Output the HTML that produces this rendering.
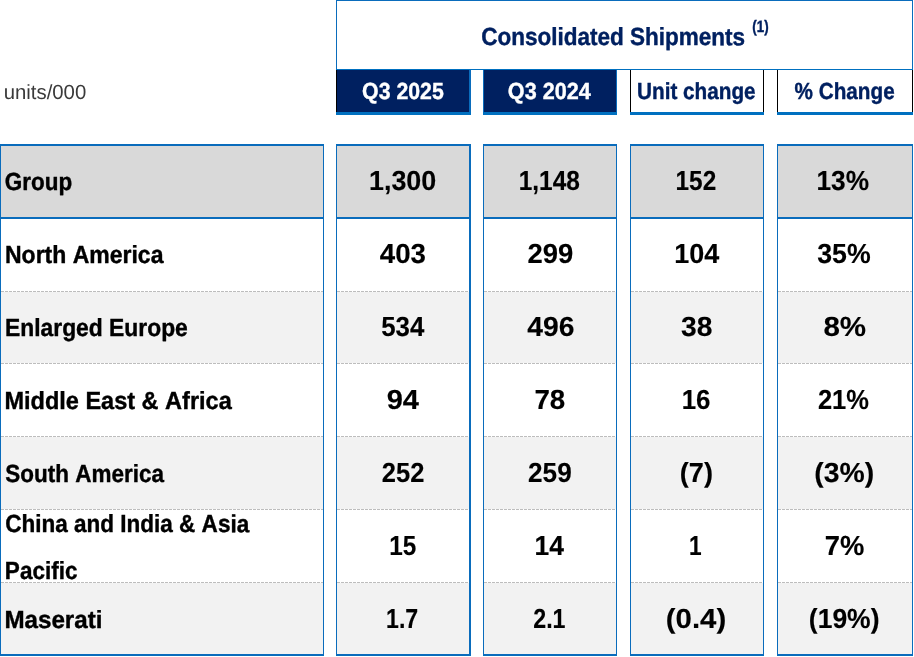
<!DOCTYPE html>
<html lang="en"><head><meta charset="utf-8"><title>Consolidated Shipments</title>
<style>
html,body{margin:0;padding:0;background:#fff}
body{width:914px;height:657px;position:relative;overflow:hidden;font-family:"Liberation Sans",sans-serif}
.r{position:absolute}
.t{position:absolute;font-kerning:none;white-space:nowrap;line-height:1;transform-origin:0 0;margin:0;padding:0}
.dash{position:absolute;height:1px;background-image:repeating-linear-gradient(90deg,#bdbdbd 0,#bdbdbd 3px,transparent 3px,transparent 4px)}
</style></head><body>

<div class="r" style="left:336px;top:0px;width:577px;height:1px;background:#0A6CBC"></div>
<div class="r" style="left:336px;top:0px;width:1px;height:70px;background:#0A6CBC"></div>
<div class="r" style="left:912px;top:0px;width:1px;height:70px;background:#0A6CBC"></div>
<div class="r" style="left:336px;top:69px;width:577px;height:1px;background:#0070C0"></div>
<div class="r" style="left:337px;top:70px;width:132px;height:42px;background:#002060"></div>
<div class="r" style="left:336px;top:70px;width:1px;height:43px;background:#000"></div>
<div class="r" style="left:469px;top:70px;width:2px;height:42px;background:#0A6CBC"></div>
<div class="r" style="left:336px;top:112px;width:135px;height:3px;background:#0070C0"></div>
<div class="r" style="left:484px;top:70px;width:132px;height:42px;background:#002060"></div>
<div class="r" style="left:483px;top:70px;width:1px;height:42px;background:#0A6CBC"></div>
<div class="r" style="left:616px;top:70px;width:1px;height:42px;background:#0A6CBC"></div>
<div class="r" style="left:483px;top:112px;width:134px;height:3px;background:#0070C0"></div>
<div class="r" style="left:630px;top:70px;width:1px;height:43px;background:#000"></div>
<div class="r" style="left:763px;top:70px;width:1px;height:43px;background:#000"></div>
<div class="r" style="left:630px;top:112px;width:134px;height:3px;background:#0070C0"></div>
<div class="r" style="left:777px;top:70px;width:1px;height:43px;background:#000"></div>
<div class="r" style="left:912px;top:70px;width:1px;height:43px;background:#000"></div>
<div class="r" style="left:777px;top:112px;width:136px;height:3px;background:#0070C0"></div>
<div class="r" style="left:1px;top:146px;width:322px;height:71px;background:#D9D9D9"></div>
<div class="r" style="left:1px;top:292px;width:322px;height:71px;background:#F2F2F2"></div>
<div class="r" style="left:1px;top:437px;width:322px;height:72px;background:#F2F2F2"></div>
<div class="r" style="left:1px;top:583px;width:322px;height:71px;background:#F2F2F2"></div>
<div class="dash" style="left:1px;top:291px;width:322px"></div>
<div class="dash" style="left:1px;top:363px;width:322px"></div>
<div class="dash" style="left:1px;top:436px;width:322px"></div>
<div class="dash" style="left:1px;top:509px;width:322px"></div>
<div class="dash" style="left:1px;top:582px;width:322px"></div>
<div class="r" style="left:0px;top:144px;width:324px;height:2px;background:#0A6CBC"></div>
<div class="r" style="left:0px;top:217px;width:324px;height:2px;background:#0A6CBC"></div>
<div class="r" style="left:0px;top:654px;width:324px;height:2px;background:#0A6CBC"></div>
<div class="r" style="left:0px;top:144px;width:1px;height:512px;background:#0A6CBC"></div>
<div class="r" style="left:323px;top:144px;width:1px;height:512px;background:#0A6CBC"></div>
<div class="r" style="left:337px;top:146px;width:132px;height:71px;background:#D9D9D9"></div>
<div class="r" style="left:337px;top:292px;width:132px;height:71px;background:#F2F2F2"></div>
<div class="r" style="left:337px;top:437px;width:132px;height:72px;background:#F2F2F2"></div>
<div class="r" style="left:337px;top:583px;width:132px;height:71px;background:#F2F2F2"></div>
<div class="dash" style="left:337px;top:291px;width:132px"></div>
<div class="dash" style="left:337px;top:363px;width:132px"></div>
<div class="dash" style="left:337px;top:436px;width:132px"></div>
<div class="dash" style="left:337px;top:509px;width:132px"></div>
<div class="dash" style="left:337px;top:582px;width:132px"></div>
<div class="r" style="left:336px;top:144px;width:135px;height:2px;background:#0A6CBC"></div>
<div class="r" style="left:336px;top:217px;width:135px;height:2px;background:#0A6CBC"></div>
<div class="r" style="left:336px;top:654px;width:135px;height:2px;background:#0A6CBC"></div>
<div class="r" style="left:336px;top:144px;width:1px;height:512px;background:#0A6CBC"></div>
<div class="r" style="left:469px;top:144px;width:2px;height:512px;background:#0A6CBC"></div>
<div class="r" style="left:484px;top:146px;width:132px;height:71px;background:#D9D9D9"></div>
<div class="r" style="left:484px;top:292px;width:132px;height:71px;background:#F2F2F2"></div>
<div class="r" style="left:484px;top:437px;width:132px;height:72px;background:#F2F2F2"></div>
<div class="r" style="left:484px;top:583px;width:132px;height:71px;background:#F2F2F2"></div>
<div class="dash" style="left:484px;top:291px;width:132px"></div>
<div class="dash" style="left:484px;top:363px;width:132px"></div>
<div class="dash" style="left:484px;top:436px;width:132px"></div>
<div class="dash" style="left:484px;top:509px;width:132px"></div>
<div class="dash" style="left:484px;top:582px;width:132px"></div>
<div class="r" style="left:483px;top:144px;width:134px;height:2px;background:#0A6CBC"></div>
<div class="r" style="left:483px;top:217px;width:134px;height:2px;background:#0A6CBC"></div>
<div class="r" style="left:483px;top:654px;width:134px;height:2px;background:#0A6CBC"></div>
<div class="r" style="left:483px;top:144px;width:1px;height:512px;background:#0A6CBC"></div>
<div class="r" style="left:616px;top:144px;width:1px;height:512px;background:#0A6CBC"></div>
<div class="r" style="left:631px;top:146px;width:132px;height:71px;background:#D9D9D9"></div>
<div class="r" style="left:631px;top:292px;width:132px;height:71px;background:#F2F2F2"></div>
<div class="r" style="left:631px;top:437px;width:132px;height:72px;background:#F2F2F2"></div>
<div class="r" style="left:631px;top:583px;width:132px;height:71px;background:#F2F2F2"></div>
<div class="dash" style="left:631px;top:291px;width:132px"></div>
<div class="dash" style="left:631px;top:363px;width:132px"></div>
<div class="dash" style="left:631px;top:436px;width:132px"></div>
<div class="dash" style="left:631px;top:509px;width:132px"></div>
<div class="dash" style="left:631px;top:582px;width:132px"></div>
<div class="r" style="left:630px;top:144px;width:134px;height:2px;background:#0A6CBC"></div>
<div class="r" style="left:630px;top:217px;width:134px;height:2px;background:#0A6CBC"></div>
<div class="r" style="left:630px;top:654px;width:134px;height:2px;background:#0A6CBC"></div>
<div class="r" style="left:630px;top:144px;width:1px;height:512px;background:#0A6CBC"></div>
<div class="r" style="left:763px;top:144px;width:1px;height:512px;background:#0A6CBC"></div>
<div class="r" style="left:778px;top:146px;width:134px;height:71px;background:#D9D9D9"></div>
<div class="r" style="left:778px;top:292px;width:134px;height:71px;background:#F2F2F2"></div>
<div class="r" style="left:778px;top:437px;width:134px;height:72px;background:#F2F2F2"></div>
<div class="r" style="left:778px;top:583px;width:134px;height:71px;background:#F2F2F2"></div>
<div class="dash" style="left:778px;top:291px;width:134px"></div>
<div class="dash" style="left:778px;top:363px;width:134px"></div>
<div class="dash" style="left:778px;top:436px;width:134px"></div>
<div class="dash" style="left:778px;top:509px;width:134px"></div>
<div class="dash" style="left:778px;top:582px;width:134px"></div>
<div class="r" style="left:777px;top:144px;width:136px;height:2px;background:#0A6CBC"></div>
<div class="r" style="left:777px;top:217px;width:136px;height:2px;background:#0A6CBC"></div>
<div class="r" style="left:777px;top:654px;width:136px;height:2px;background:#0A6CBC"></div>
<div class="r" style="left:777px;top:144px;width:1px;height:512px;background:#0A6CBC"></div>
<div class="r" style="left:912px;top:144px;width:1px;height:512px;background:#0A6CBC"></div>
<span class="t" id="h_title" style="left:481px;top:25px;font-size:24.7px;font-weight:700;color:#002060;-webkit-text-stroke:0.4px currentColor;transform:translate(0.19px,0) scale(0.9119,1.0000) rotate(0.03deg)">Consolidated Shipments</span>
<span class="t" id="h_sup" style="left:752px;top:18px;font-size:16.5px;font-weight:700;color:#002060;-webkit-text-stroke:0.4px currentColor;transform:translate(0.34px,0) scale(0.8065,1.0000) rotate(0.03deg)">(1)</span>
<span class="t" id="h_q25" style="left:362px;top:80px;font-size:23.25px;font-weight:700;color:#ffffff;-webkit-text-stroke:0.4px currentColor;transform:translate(0.11px,0) scale(0.9150,1.0000) rotate(0.03deg)">Q3 2025</span>
<span class="t" id="h_q24" style="left:507px;top:80px;font-size:23.25px;font-weight:700;color:#ffffff;-webkit-text-stroke:0.4px currentColor;transform:translate(0.83px,0) scale(0.9299,1.0000) rotate(0.03deg)">Q3 2024</span>
<span class="t" id="h_unit" style="left:637px;top:80px;font-size:23.25px;font-weight:700;color:#002060;-webkit-text-stroke:0.4px currentColor;transform:translate(0.01px,0) scale(0.8916,1.0000) rotate(0.03deg)">Unit change</span>
<span class="t" id="h_pct" style="left:794px;top:80px;font-size:23.25px;font-weight:700;color:#002060;-webkit-text-stroke:0.4px currentColor;transform:translate(0.56px,0) scale(0.8908,1.0000) rotate(0.03deg)">% Change</span>
<span class="t" id="units" style="left:3px;top:82px;font-size:20.5px;font-weight:400;color:#3a3a3a;transform:translate(0.71px,0) scale(0.9920,1.0000) rotate(0.03deg)">units/000</span>
<span class="t" id="l_group" style="left:4px;top:170px;font-size:24.7px;font-weight:700;color:#000;-webkit-text-stroke:0.4px currentColor;transform:translate(0.78px,0) scale(0.9103,1.0000) rotate(0.03deg)">Group</span>
<span class="t" id="l_na" style="left:4px;top:243px;font-size:24.7px;font-weight:700;color:#000;-webkit-text-stroke:0.4px currentColor;transform:translate(0.99px,0) scale(0.9314,1.0000) rotate(0.03deg)">North America</span>
<span class="t" id="l_ee" style="left:5px;top:316px;font-size:24.7px;font-weight:700;color:#000;-webkit-text-stroke:0.4px currentColor;transform:translate(0.02px,0) scale(0.9255,1.0000) rotate(0.03deg)">Enlarged Europe</span>
<span class="t" id="l_mea" style="left:4px;top:389px;font-size:24.7px;font-weight:700;color:#000;-webkit-text-stroke:0.4px currentColor;transform:translate(0.47px,0) scale(0.9520,1.0000) rotate(0.03deg)">Middle East &amp; Africa</span>
<span class="t" id="l_sa" style="left:5px;top:462px;font-size:24.7px;font-weight:700;color:#000;-webkit-text-stroke:0.4px currentColor;transform:translate(0.27px,0) scale(0.9106,1.0000) rotate(0.03deg)">South America</span>
<span class="t" id="l_ch1" style="left:5px;top:512px;font-size:24.7px;font-weight:700;color:#000;-webkit-text-stroke:0.4px currentColor;transform:translate(0.20px,0) scale(0.9122,1.0000) rotate(0.03deg)">China and India &amp; Asia</span>
<span class="t" id="l_ch2" style="left:4px;top:559px;font-size:24.7px;font-weight:700;color:#000;-webkit-text-stroke:0.4px currentColor;transform:translate(0.88px,0) scale(0.9123,1.0000) rotate(0.03deg)">Pacific</span>
<span class="t" id="l_mas" style="left:4px;top:608px;font-size:24.7px;font-weight:700;color:#000;-webkit-text-stroke:0.4px currentColor;transform:translate(0.40px,0) scale(0.9792,1.0000) rotate(0.03deg)">Maserati</span>
<span class="t" id="n00" style="left:368px;top:167px;font-size:27.6px;font-weight:700;color:#000;-webkit-text-stroke:0.15px currentColor;transform:translate(0.99px,0) scale(0.9739,1.0000) rotate(0.03deg)">1,300</span>
<span class="t" id="n01" style="left:518px;top:167px;font-size:27.6px;font-weight:700;color:#000;-webkit-text-stroke:0.15px currentColor;transform:translate(0.73px,0) scale(0.8860,1.0000) rotate(0.03deg)">1,148</span>
<span class="t" id="n02" style="left:675px;top:167px;font-size:27.6px;font-weight:700;color:#000;-webkit-text-stroke:0.15px currentColor;transform:translate(0.51px,0) scale(0.8838,1.0000) rotate(0.03deg)">152</span>
<span class="t" id="n03" style="left:816px;top:167px;font-size:27.6px;font-weight:700;color:#000;-webkit-text-stroke:0.15px currentColor;transform:translate(0.52px,0) scale(0.9508,1.0000) rotate(0.03deg)">13%</span>
<span class="t" id="n10" style="left:379px;top:240px;font-size:27.6px;font-weight:700;color:#000;-webkit-text-stroke:0.15px currentColor;transform:translate(0.78px,0) scale(1.0020,1.0000) rotate(0.03deg)">403</span>
<span class="t" id="n11" style="left:527px;top:240px;font-size:27.6px;font-weight:700;color:#000;-webkit-text-stroke:0.15px currentColor;transform:translate(0.56px,0) scale(0.9945,1.0000) rotate(0.03deg)">299</span>
<span class="t" id="n12" style="left:674px;top:240px;font-size:27.6px;font-weight:700;color:#000;-webkit-text-stroke:0.15px currentColor;transform:translate(0.15px,0) scale(0.9775,1.0000) rotate(0.03deg)">104</span>
<span class="t" id="n13" style="left:817px;top:240px;font-size:27.6px;font-weight:700;color:#000;-webkit-text-stroke:0.15px currentColor;transform:translate(0.24px,0) scale(0.9667,1.0000) rotate(0.03deg)">35%</span>
<span class="t" id="n20" style="left:381px;top:313px;font-size:27.6px;font-weight:700;color:#000;-webkit-text-stroke:0.15px currentColor;transform:translate(0.27px,0) scale(0.9353,1.0000) rotate(0.03deg)">534</span>
<span class="t" id="n21" style="left:527px;top:313px;font-size:27.6px;font-weight:700;color:#000;-webkit-text-stroke:0.15px currentColor;transform:translate(0.33px,0) scale(1.0241,1.0000) rotate(0.03deg)">496</span>
<span class="t" id="n22" style="left:680px;top:313px;font-size:27.6px;font-weight:700;color:#000;-webkit-text-stroke:0.15px currentColor;transform:translate(0.99px,0) scale(1.0210,1.0000) rotate(0.03deg)">38</span>
<span class="t" id="n23" style="left:823px;top:313px;font-size:27.6px;font-weight:700;color:#000;-webkit-text-stroke:0.15px currentColor;transform:translate(0.40px,0) scale(1.0700,1.0000) rotate(0.03deg)">8%</span>
<span class="t" id="n30" style="left:386px;top:386px;font-size:27.6px;font-weight:700;color:#000;-webkit-text-stroke:0.15px currentColor;transform:translate(0.69px,0) scale(1.0514,1.0000) rotate(0.03deg)">94</span>
<span class="t" id="n31" style="left:534px;top:386px;font-size:27.6px;font-weight:700;color:#000;-webkit-text-stroke:0.15px currentColor;transform:translate(0.39px,0) scale(1.0041,1.0000) rotate(0.03deg)">78</span>
<span class="t" id="n32" style="left:681px;top:386px;font-size:27.6px;font-weight:700;color:#000;-webkit-text-stroke:0.15px currentColor;transform:translate(0.72px,0) scale(0.9381,1.0000) rotate(0.03deg)">16</span>
<span class="t" id="n33" style="left:817px;top:386px;font-size:27.6px;font-weight:700;color:#000;-webkit-text-stroke:0.15px currentColor;transform:translate(0.94px,0) scale(0.9247,1.0000) rotate(0.03deg)">21%</span>
<span class="t" id="n40" style="left:381px;top:459px;font-size:27.6px;font-weight:700;color:#000;-webkit-text-stroke:0.15px currentColor;transform:translate(0.82px,0) scale(0.9248,1.0000) rotate(0.03deg)">252</span>
<span class="t" id="n41" style="left:528px;top:459px;font-size:27.6px;font-weight:700;color:#000;-webkit-text-stroke:0.15px currentColor;transform:translate(0.09px,0) scale(0.9476,1.0000) rotate(0.03deg)">259</span>
<span class="t" id="n42" style="left:679px;top:459px;font-size:27.6px;font-weight:700;color:#000;-webkit-text-stroke:0.15px currentColor;transform:translate(0.86px,0) scale(0.9804,1.0000) rotate(0.03deg)">(7)</span>
<span class="t" id="n43" style="left:814px;top:459px;font-size:27.6px;font-weight:700;color:#000;-webkit-text-stroke:0.15px currentColor;transform:translate(0.26px,0) scale(1.0274,1.0000) rotate(0.03deg)">(3%)</span>
<span class="t" id="n50" style="left:389px;top:532px;font-size:27.6px;font-weight:700;color:#000;-webkit-text-stroke:0.15px currentColor;transform:translate(0.17px,0) scale(0.8801,1.0000) rotate(0.03deg)">15</span>
<span class="t" id="n51" style="left:534px;top:532px;font-size:27.6px;font-weight:700;color:#000;-webkit-text-stroke:0.15px currentColor;transform:translate(0.50px,0) scale(0.9585,1.0000) rotate(0.03deg)">14</span>
<span class="t" id="n52" style="left:689px;top:532px;font-size:27.6px;font-weight:700;color:#000;-webkit-text-stroke:0.15px currentColor;transform:translate(0.12px,0) scale(0.8221,1.0000) rotate(0.03deg)">1</span>
<span class="t" id="n53" style="left:824px;top:532px;font-size:27.6px;font-weight:700;color:#000;-webkit-text-stroke:0.15px currentColor;transform:translate(0.72px,0) scale(0.9914,1.0000) rotate(0.03deg)">7%</span>
<span class="t" id="n60" style="left:386px;top:605px;font-size:27.6px;font-weight:700;color:#000;-webkit-text-stroke:0.15px currentColor;transform:translate(0.04px,0) scale(0.8389,1.0000) rotate(0.03deg)">1.7</span>
<span class="t" id="n61" style="left:533px;top:605px;font-size:27.6px;font-weight:700;color:#000;-webkit-text-stroke:0.15px currentColor;transform:translate(0.22px,0) scale(0.8429,1.0000) rotate(0.03deg)">2.1</span>
<span class="t" id="n62" style="left:665px;top:605px;font-size:27.6px;font-weight:700;color:#000;-webkit-text-stroke:0.15px currentColor;transform:translate(0.82px,0) scale(1.0639,1.0000) rotate(0.03deg)">(0.4)</span>
<span class="t" id="n63" style="left:808px;top:605px;font-size:27.6px;font-weight:700;color:#000;-webkit-text-stroke:0.15px currentColor;transform:translate(0.85px,0) scale(0.9599,1.0000) rotate(0.03deg)">(19%)</span>
</body></html>
